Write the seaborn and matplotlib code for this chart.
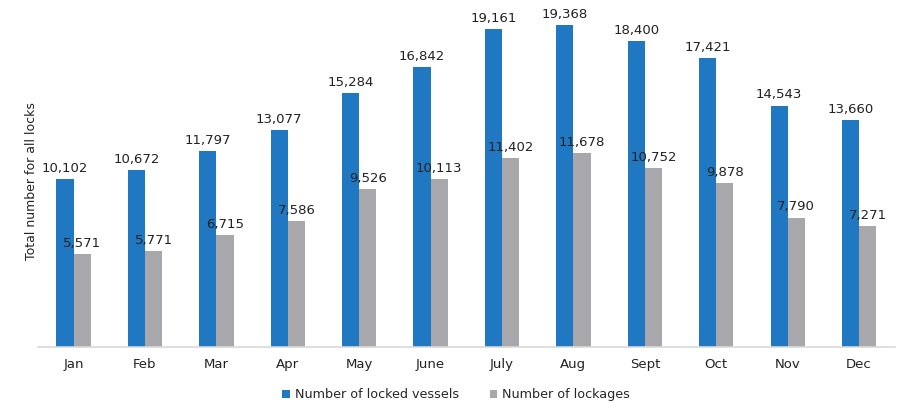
import pandas as pd
import matplotlib.pyplot as plt
import seaborn as sns

months = ['Jan', 'Feb', 'Mar', 'Apr', 'May', 'June', 'July', 'Aug', 'Sept', 'Oct', 'Nov', 'Dec']
vessels = [10102, 10672, 11797, 13077, 15284, 16842, 19161, 19368, 18400, 17421, 14543, 13660]
lockages = [5571, 5771, 6715, 7586, 9526, 10113, 11402, 11678, 10752, 9878, 7790, 7271]
series = ['Number of locked vessels', 'Number of lockages']

df = pd.DataFrame({
    'month': months * 2,
    'value': vessels + lockages,
    'series': [series[0]] * len(months) + [series[1]] * len(months),
})

sns.set_style('white')
plt.rcParams['font.family'] = ['DejaVu Sans']

fig = plt.figure(figsize=(9.02, 4.03), dpi=100)
ax = fig.add_axes([0.042, 0.139, 0.950, 0.824])

sns.barplot(data=df, x='month', y='value', hue='series', order=months, hue_order=series,
            palette=['#1f78c1', '#a8a8ac'], width=0.48, saturation=1, linewidth=0, ax=ax)

for cont in ax.containers:
    ax.bar_label(cont, labels=[f'{v:,.0f}' for v in cont.datavalues], padding=3, fontsize=9.5, color='#222222')

ax.set_ylim(0, 20000)
ax.set_xlim(-0.5, len(months) - 0.5)
ax.set_yticks([])
ax.set_xlabel('')
ax.set_ylabel('Total number for all locks', fontsize=9, color='#222222', labelpad=0)
ax.tick_params(axis='x', length=0, labelsize=9.5, colors='#222222', pad=8)
for s in ['top', 'right', 'left']:
    ax.spines[s].set_visible(False)
ax.spines['bottom'].set_color('#d9d9d9')
ax.spines['bottom'].set_linewidth(1.2)

ax.legend(loc='upper center', bbox_to_anchor=(0.488, -0.09), ncol=2, frameon=False,
          fontsize=9.2, handlelength=0.6, handleheight=0.6, handletextpad=0.4, columnspacing=2.4)

fig.savefig('out.png', dpi=100)
